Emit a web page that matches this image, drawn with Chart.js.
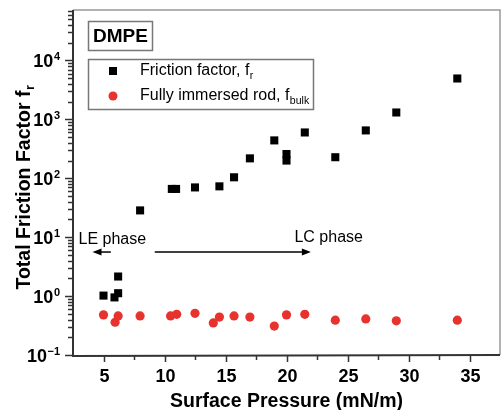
<!DOCTYPE html>
<html>
<head>
<meta charset="utf-8">
<script src="https://cdn.jsdelivr.net/npm/chart.js@4/dist/chart.umd.min.js"></script>
<style>
  html, body { margin: 0; padding: 0; background: #fff; }
  #wrap { width: 501px; height: 410px; }
</style>
</head>
<body>
<div id="wrap"><canvas id="c" width="501" height="410"></canvas></div>
<script>
/* ── data ── */
const X_FR   = [5, 5.9, 6.2, 6.2, 8, 10.6, 10.95, 12.5, 14.5, 15.7, 17, 19, 20, 20, 21.5, 24, 26.5, 29, 34];
const Y_FR   = [1.02, 0.95, 1.12, 2.15, 28.5, 66, 66, 70, 73, 104, 218, 440, 258, 200, 600, 228, 650, 1310, 4950];
const X_BULK = [5, 5.95, 6.2, 8, 10.5, 11, 12.5, 14, 14.5, 15.7, 17, 19, 20, 21.5, 24, 26.5, 29, 34];
const Y_BULK = [0.48, 0.36, 0.46, 0.46, 0.46, 0.49, 0.51, 0.35, 0.44, 0.46, 0.44, 0.31, 0.48, 0.49, 0.39, 0.41, 0.38, 0.39];

const SERIES_NAMES = ['Friction factor, f', 'Fully immersed rod, f'];
const SERIES_SUBS  = ['r', 'bulk'];

const X_TICKS  = [5, 10, 15, 20, 25, 30, 35];
const X_MINOR  = [7.5, 12.5, 17.5, 22.5, 27.5, 32.5];
const Y_EXP    = [-1, 0, 1, 2, 3, 4];

const X_TITLE = 'Surface Pressure (mN/m)';
const Y_TITLE = 'Total Friction Factor f';
const Y_TITLE_SUB = 'r';
const BOX_LABEL = 'DMPE';

const RED  = '#e8322e';
const AXIS = '#333';
const FONT = '"Liberation Sans", Arial, sans-serif';

const pts = (xs, ys) => xs.map((x, i) => ({ x, y: ys[i] }));

/* text with subscript, returns width */
function subText(ctx, main, sub, x, y, size, bold, subSize, drop) {
  ctx.font = (bold ? 'bold ' : '') + size + 'px ' + FONT;
  ctx.fillText(main, x, y);
  const w = ctx.measureText(main).width;
  ctx.font = (bold ? 'bold ' : '') + subSize + 'px ' + FONT;
  ctx.fillText(sub, x + w + 0.5, y + drop);
  return w + ctx.measureText(sub).width;
}

function arrow(ctx, x1, y, x2) {
  const dir = Math.sign(x2 - x1);
  ctx.beginPath();
  ctx.moveTo(x1, y); ctx.lineTo(x2 - dir * 6, y);
  ctx.stroke();
  ctx.beginPath();
  ctx.moveTo(x2, y);
  ctx.lineTo(x2 - dir * 9, y - 3.5);
  ctx.lineTo(x2 - dir * 9, y + 3.5);
  ctx.closePath();
  ctx.fill();
}

const decor = {
  id: 'decor',
  afterDraw(chart) {
    const ctx = chart.ctx, a = chart.chartArea;
    const xs = chart.scales.x, ys = chart.scales.y;
    ctx.save();

    /* frame */
    ctx.strokeStyle = '#999'; ctx.lineWidth = 1.5;
    ctx.beginPath();
    ctx.moveTo(a.left, a.top); ctx.lineTo(a.right, a.top); ctx.lineTo(a.right, a.bottom);
    ctx.stroke();
    ctx.strokeStyle = AXIS; ctx.lineWidth = 2;
    ctx.beginPath();
    ctx.moveTo(a.left, a.top); ctx.lineTo(a.left, a.bottom + 1); ctx.lineTo(a.right, a.bottom);
    ctx.stroke();

    /* x ticks */
    ctx.lineWidth = 1.5;
    ctx.fillStyle = '#000';
    ctx.textAlign = 'center'; ctx.textBaseline = 'alphabetic';
    ctx.font = 'bold 18px ' + FONT;
    X_TICKS.forEach(v => {
      const p = Math.round(xs.getPixelForValue(v)) + 0.5;
      ctx.beginPath(); ctx.moveTo(p, a.bottom); ctx.lineTo(p, a.bottom + 7); ctx.stroke();
      ctx.fillText(String(v), p, a.bottom + 27);
    });
    X_MINOR.forEach(v => {
      const p = Math.round(xs.getPixelForValue(v)) + 0.5;
      ctx.beginPath(); ctx.moveTo(p, a.bottom); ctx.lineTo(p, a.bottom + 5); ctx.stroke();
    });

    /* y ticks */
    Y_EXP.forEach(e => {
      const dec = Math.pow(10, e);
      const p = Math.round(ys.getPixelForValue(dec)) + 0.5;
      ctx.beginPath(); ctx.moveTo(a.left, p); ctx.lineTo(a.left - 8, p); ctx.stroke();
      for (let m = 2; m <= 9; m++) {
        const v = m * dec;
        if (v > ys.max) break;
        const q = Math.round(ys.getPixelForValue(v)) + 0.5;
        ctx.beginPath(); ctx.moveTo(a.left, q); ctx.lineTo(a.left - 5, q); ctx.stroke();
      }
      const expStr = String(e).replace('-', '\u2212');
      ctx.textAlign = 'right';
      ctx.font = 'bold 11px ' + FONT;
      const ew = ctx.measureText(expStr).width;
      ctx.fillText(expStr, 60, p - 1);
      ctx.font = 'bold 18px ' + FONT;
      ctx.fillText('10', 60 - ew - 0.5, p + 6.5);
    });

    /* axis titles */
    ctx.textAlign = 'left';
    ctx.font = 'bold 19.5px ' + FONT;
    const xtw = ctx.measureText(X_TITLE).width;
    ctx.fillText(X_TITLE, (a.left + a.right) / 2 - xtw / 2, 407);

    ctx.save();
    ctx.translate(30, (a.top + a.bottom) / 2 + 5);
    ctx.rotate(-Math.PI / 2);
    ctx.font = 'bold 19.5px ' + FONT;
    const mw = ctx.measureText(Y_TITLE).width;
    ctx.font = 'bold 13px ' + FONT;
    const sw = ctx.measureText(Y_TITLE_SUB).width;
    subText(ctx, Y_TITLE, Y_TITLE_SUB, -(mw + sw) / 2, 0, 19.5, true, 13, 4);
    ctx.restore();

    /* DMPE box */
    ctx.strokeStyle = '#777'; ctx.lineWidth = 1.5;
    ctx.strokeRect(88.5, 21.5, 64, 29);
    ctx.font = 'bold 19px ' + FONT;
    ctx.textAlign = 'center'; ctx.textBaseline = 'middle';
    ctx.fillText(BOX_LABEL, 120.5, 37);

    /* legend */
    ctx.strokeRect(88.5, 59.5, 225, 50);
    ctx.textAlign = 'left';
    ctx.fillStyle = '#000';
    ctx.fillRect(109, 67, 8, 8);
    subText(ctx, SERIES_NAMES[0], SERIES_SUBS[0], 140, 71, 16, false, 10.5, 5);
    ctx.fillStyle = RED;
    ctx.beginPath(); ctx.arc(113, 96, 4.5, 0, Math.PI * 2); ctx.fill();
    ctx.fillStyle = '#000';
    subText(ctx, SERIES_NAMES[1], SERIES_SUBS[1], 140, 96, 16, false, 10.5, 5);

    /* phase annotations */
    ctx.strokeStyle = '#000'; ctx.fillStyle = '#000'; ctx.lineWidth = 1.5;
    const ya = ys.getPixelForValue(5.6);
    arrow(ctx, xs.getPixelForValue(5.6), ya, xs.getPixelForValue(4.1));
    arrow(ctx, xs.getPixelForValue(9.2), ya, xs.getPixelForValue(22.0));
    ctx.font = '16px ' + FONT;
    ctx.textBaseline = 'middle';
    ctx.fillText('LE phase', xs.getPixelForValue(2.95), ys.getPixelForValue(9.0));
    ctx.fillText('LC phase', xs.getPixelForValue(20.65), ys.getPixelForValue(9.8));

    ctx.restore();
  }
};

new Chart(document.getElementById('c'), {
  type: 'scatter',
  data: {
    datasets: [
      {
        label: SERIES_NAMES[0] + SERIES_SUBS[0],
        data: pts(X_FR, Y_FR),
        pointStyle: 'rect',
        pointRadius: 5.7,
        backgroundColor: '#000',
        borderWidth: 0,
      },
      {
        label: SERIES_NAMES[1] + SERIES_SUBS[1],
        data: pts(X_BULK, Y_BULK),
        pointStyle: 'circle',
        pointRadius: 4.6,
        backgroundColor: RED,
        borderWidth: 0,
      }
    ]
  },
  options: {
    responsive: false,
    animation: false,
    layout: { autoPadding: false, padding: { top: 10, right: 1, left: 0, bottom: 0 } },
    plugins: { legend: { display: false }, tooltip: { enabled: false } },
    scales: {
      x: {
        type: 'linear', min: 2.5, max: 37.5,
        ticks: { display: false }, grid: { display: false }, border: { display: false },
        afterFit: s => { s.height = 55; }
      },
      y: {
        type: 'logarithmic', min: 0.1, max: 72000,
        ticks: { display: false }, grid: { display: false }, border: { display: false },
        afterFit: s => { s.width = 73; }
      }
    }
  },
  plugins: [decor]
});
</script>
</body>
</html>
